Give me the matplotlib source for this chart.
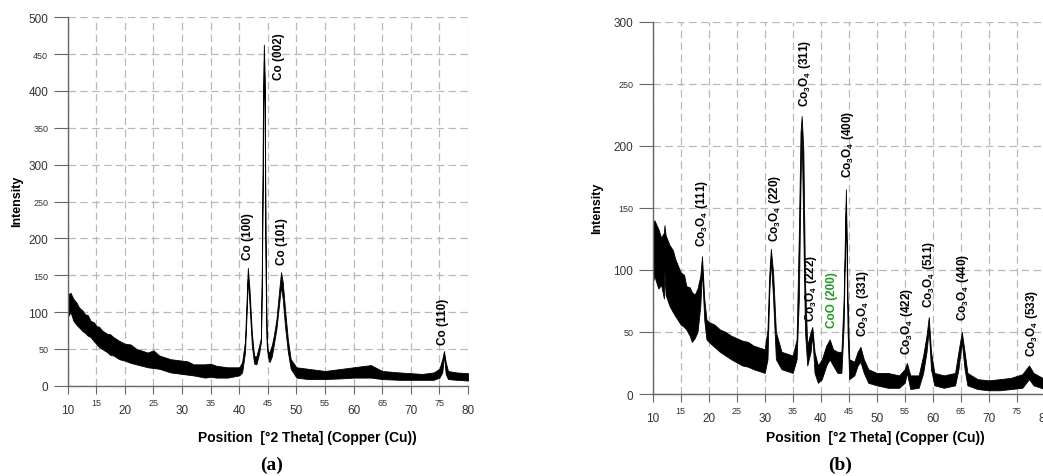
import numpy as np
import matplotlib
matplotlib.use("Agg")
import matplotlib.pyplot as plt

plt.rcParams['font.family'] = ['Liberation Sans', 'DejaVu Sans']
plt.rcParams['mathtext.fontset'] = 'custom'
plt.rcParams['mathtext.rm'] = 'Liberation Sans:bold'
plt.rcParams['mathtext.bf'] = 'Liberation Sans:bold'

# --- (a) Co sample: band of the noisy trace (lower / upper edge) ---
theta_a = [10, 10.5, 11, 11.6, 12, 12.6, 13, 13.5, 14, 14.6, 15, 15.5, 16, 17, 17.4,
           18, 19, 20, 21, 22, 24, 25, 26, 28, 30, 31, 32, 34, 35, 36, 38, 40,
           40.5, 41.0, 41.3, 41.5, 41.8, 42.2, 42.6, 43.0,
           43.5, 43.8, 43.95, 44.15, 44.3, 44.45, 44.6, 44.8, 45.0, 45.3, 45.7,
           46.0, 46.5, 47.0, 47.3, 47.6, 48.0, 48.5, 49.0, 50, 52, 55, 58, 60,
           62, 63, 65, 68, 70, 72, 74, 75, 75.5, 75.8, 76.1, 76.5, 78, 80]
lo_a = [93, 100, 88, 82, 79, 74, 72, 68, 66, 60, 57, 52, 50, 45, 42,
        41, 36, 34, 31, 29, 25, 24, 23, 18, 16, 15, 14, 11, 12, 11, 11, 14,
        18, 45, 100, 145, 110, 55, 30, 29,
        45, 60, 140, 300, 440, 380, 150, 55, 40, 32, 40,
        54, 77, 113, 135, 118, 81, 46, 23, 11, 9, 9, 10, 11,
        11, 11, 9, 8, 8, 8, 8, 11, 18, 42, 16, 9, 8, 7]
hi_a = [124, 126, 118, 112, 106, 102, 97, 96, 88, 86, 81, 80, 75, 70, 70,
        66, 61, 57, 56, 50, 45, 48, 41, 36, 34, 33, 29, 29, 30, 27, 25, 25,
        32, 60, 120, 160, 130, 72, 40, 40,
        55, 65, 162, 380, 463, 420, 200, 65, 46, 46, 55,
        66, 90, 131, 154, 141, 104, 63, 36, 25, 23, 20, 23, 25,
        27, 28, 20, 18, 17, 16, 18, 23, 36, 47, 32, 20, 18, 17]

labels_a = ['Co (100)', 'Co (002)', 'Co (101)', 'Co (110)']
label_x_a = [41.5, 46.9, 47.4, 75.7]
label_y_a = [172, 416, 165, 57]

# --- (b) Co3O4 sample ---
theta_b = [10, 10.3, 11, 11.5, 12, 12.1, 12.3, 13, 13.6, 14, 15, 15.6, 16, 16.6, 17,
           17.5, 18, 18.5, 18.8, 19.2, 19.6, 20, 21, 22, 23, 24, 26, 27, 28, 30,
           30.5, 30.8, 31.1, 31.5, 32, 33,
           35, 35.7, 36.1, 36.4, 36.6, 36.9, 37.2, 37.6, 38.2, 38.5, 38.9, 39.5,
           40.2, 41, 41.6, 42.2, 43, 43.7, 44.1, 44.5, 44.8, 45.1, 46, 46.6,
           47.1, 47.7, 48.5, 50, 52, 54, 55, 55.4, 56, 57.5, 58.3, 58.9, 59.3,
           59.7, 60.3, 62, 64, 64.6, 65.2, 65.7, 66.2, 68, 70, 72, 74, 76, 77.2,
           78, 80]
lo_b = [90, 95, 85, 88, 77, 100, 80, 71, 66, 63, 56, 54, 52, 47, 42,
        45, 50, 71, 100, 60, 44, 42, 38, 34, 31, 28, 23, 22, 20, 17,
        28, 80, 108, 77, 28, 20,
        17, 28, 77, 171, 212, 130, 50, 23, 34, 48, 17, 9,
        12, 23, 28, 23, 17, 17, 55, 155, 50, 12, 15, 23,
        26, 17, 9, 7, 5, 5, 9, 17, 4, 5, 17, 34, 52,
        20, 7, 5, 7, 20, 42, 20, 7, 4, 3, 3, 4, 5, 12,
        7, 4]
hi_b = [138, 140, 133, 126, 130, 136, 128, 120, 116, 109, 98, 96, 87, 86, 82,
        80, 85, 95, 111, 77, 60, 58, 56, 52, 50, 47, 43, 42, 39, 36,
        52, 95, 117, 98, 50, 34,
        31, 44, 130, 211, 224, 197, 90, 39, 50, 54, 34, 23,
        28, 39, 44, 36, 34, 34, 77, 165, 77, 28, 26, 34,
        38, 28, 20, 17, 17, 15, 20, 25, 15, 15, 31, 47, 62,
        34, 17, 15, 17, 34, 50, 34, 17, 12, 11, 12, 13, 16, 23,
        17, 12]

co3o4 = r'Co$_{3}$O$_{4}$'
labels_b = [co3o4 + ' (111)', co3o4 + ' (220)', co3o4 + ' (311)', co3o4 + ' (222)',
            'CoO (200)', co3o4 + ' (400)', co3o4 + ' (331)', co3o4 + ' (422)',
            co3o4 + ' (511)', co3o4 + ' (440)', co3o4 + ' (533)']
label_x_b = [18.75, 31.8, 37.2, 38.3, 42.1, 44.9, 47.6, 55.5, 59.4, 65.4, 77.7]
label_y_b = [119, 123, 232, 59, 54, 175, 47, 32, 70, 60, 31]
label_c_b = ['black'] * 4 + ['#1f9a1f'] + ['black'] * 6

x_major = [10, 20, 30, 40, 50, 60, 70, 80]
x_minor = [15, 25, 35, 45, 55, 65, 75]
y_major_a = [0, 100, 200, 300, 400, 500]
y_minor_a = [50, 150, 250, 350, 450]
y_major_b = [0, 100, 200, 300]
y_minor_b = [50, 150, 250]

fig = plt.figure(figsize=(10.43, 4.77), dpi=100)
ax_a = fig.add_axes([0.0649, 0.1893, 0.3838, 0.7723])
ax_b = fig.add_axes([0.6258, 0.1719, 0.3758, 0.7805])


def style(ax, ymax, ymaj, ymin):
    ax.set_xlim(10, 80)
    ax.set_ylim(0, ymax)
    ax.set_xticks(x_major)
    ax.set_xticklabels([str(v) for v in x_major])
    ax.set_xticks(x_minor, minor=True)
    ax.set_xticklabels([str(v) for v in x_minor], minor=True)
    ax.set_yticks(ymaj)
    ax.set_yticklabels([str(v) for v in ymaj])
    ax.set_yticks(ymin, minor=True)
    ax.set_yticklabels([str(v) for v in ymin], minor=True)
    ax.tick_params(axis='x', which='major', length=6, width=0.8, pad=7,
                   labelsize=8.5, colors='#666666', labelcolor='#333333')
    ax.tick_params(axis='x', which='minor', length=6, width=0.8, pad=2.5,
                   labelsize=6.5, colors='#666666', labelcolor='#333333')
    ax.tick_params(axis='y', which='major', length=10, width=0.8, pad=4,
                   labelsize=8.5, colors='#666666', labelcolor='#333333')
    ax.tick_params(axis='y', which='minor', length=10, width=0.8, pad=4,
                   labelsize=6.5, colors='#666666', labelcolor='#333333')
    ax.grid(True, which='both', color='#b8b8b8', lw=0.9, ls=(0, (6, 3.5)))
    for s in ['top', 'right']:
        ax.spines[s].set_visible(False)
    for s in ['left', 'bottom']:
        ax.spines[s].set_color('#666666')
        ax.spines[s].set_linewidth(1.0)
    ax.set_axisbelow(True)


style(ax_a, 500, y_major_a, y_minor_a)
style(ax_b, 300, y_major_b, y_minor_b)

ax_a.fill_between(theta_a, lo_a, hi_a, color='black', lw=0.6, edgecolor='black')
ax_b.fill_between(theta_b, lo_b, hi_b, color='black', lw=0.6, edgecolor='black')

for t, x, y in zip(labels_a, label_x_a, label_y_a):
    ax_a.text(x, y, t, rotation=90, ha='center', va='bottom',
              fontsize=8.5, fontweight='bold')
for t, x, y, c in zip(labels_b, label_x_b, label_y_b, label_c_b):
    ax_b.text(x, y, t, rotation=90, ha='center', va='bottom',
              fontsize=8.5, fontweight='bold', color=c)

# axis titles
fig.text(17 / 1043, 1 - 201 / 477, 'Intensity', rotation=90, ha='center',
         va='center', fontsize=9, fontweight='bold')
fig.text(597 / 1043, 1 - 208 / 477, 'Intensity', rotation=90, ha='center',
         va='center', fontsize=9, fontweight='bold')
fig.text(307 / 1043, 1 - 438 / 477, 'Position  [\u00b02 Theta] (Copper (Cu))',
         ha='center', va='center', fontsize=10, fontweight='bold')
fig.text(875 / 1043, 1 - 438 / 477, 'Position  [\u00b02 Theta] (Copper (Cu))',
         ha='center', va='center', fontsize=10, fontweight='bold')
fig.text(272 / 1043, 1 - 465 / 477, '(a)', ha='center', va='center',
         fontsize=14, fontweight='bold', family='Liberation Serif')
fig.text(840 / 1043, 1 - 465 / 477, '(b)', ha='center', va='center',
         fontsize=14, fontweight='bold', family='Liberation Serif')

fig.savefig('out.png', dpi=100)
